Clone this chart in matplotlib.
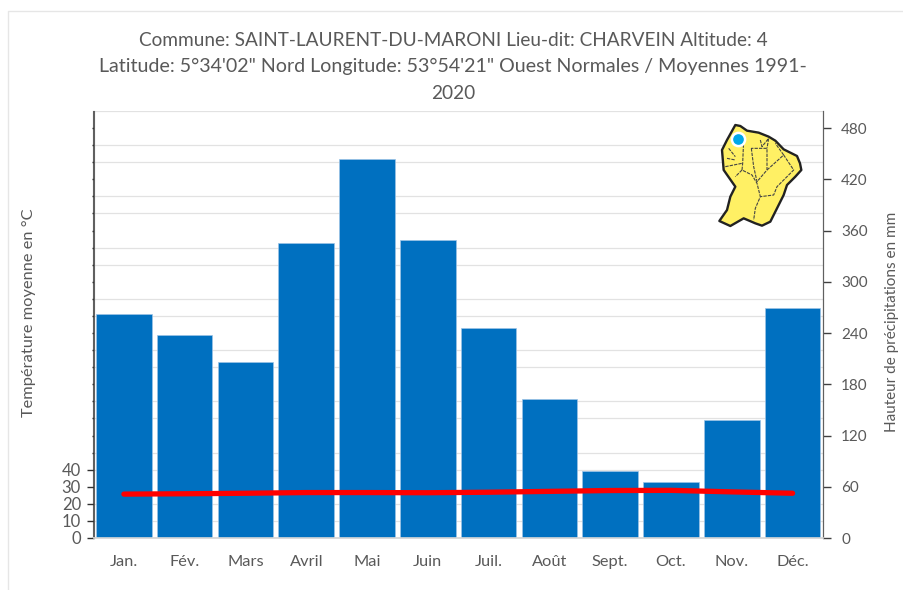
import numpy as np
import matplotlib
matplotlib.use('Agg')
import matplotlib.pyplot as plt

plt.rcParams['font.family'] = ['Lato', 'DejaVu Sans']

mois = ['Jan.', 'Fév.', 'Mars', 'Avril', 'Mai', 'Juin', 'Juil.', 'Août', 'Sept.', 'Oct.', 'Nov.', 'Déc.']
precip = [262, 238, 206, 345, 444, 349, 246, 163, 78, 65, 138, 269]
temp = [25.7, 25.9, 26.2, 26.6, 26.6, 26.5, 26.8, 27.3, 27.8, 27.9, 27.0, 26.2]
titre = ["Commune: SAINT-LAURENT-DU-MARONI Lieu-dit: CHARVEIN Altitude: 4",
         "Latitude: 5°34'02\" Nord Longitude: 53°54'21\" Ouest Normales / Moyennes 1991-",
         "2020"]

# contour de la Guyane, en pixels du petit encart
carte_x = [166, 181, 201, 236, 266, 286, 311, 351, 360, 364, 346, 321, 311, 291, 271, 246, 226, 191, 151, 118, 141, 151, 166, 131, 126, 141]
carte_y = [75, 78, 92, 98, 110, 122, 148, 168, 190, 210, 230, 255, 285, 325, 365, 377, 370, 355, 378, 363, 330, 290, 260, 210, 150, 120]
rivieres = [
    ([191, 188, 186, 216, 231, 241, 226, 221], [120, 190, 210, 225, 250, 290, 325, 360]),
    ([136, 186], [200, 190]),
    ([186, 166], [210, 230]),
    ([214, 221, 231, 261, 261, 214], [145, 200, 245, 210, 145, 145]),
    ([261, 311, 341, 291, 281, 241], [210, 165, 210, 260, 285, 290]),
    ([241, 246, 266, 261], [120, 140, 115, 145]),
    ([141, 166], [175, 180]),
    ([146, 166], [145, 170]),
    ([311, 286], [165, 130]),
]

W, H = 904, 590
fig = plt.figure(figsize=(W / 100, H / 100), dpi=100)
g, d, haut, bas = 93.5, 823, 111, 538
ax2 = fig.add_axes([g / W, 1 - bas / H, (d - g) / W, (bas - haut) / H])
ax = ax2.twinx()
ax.yaxis.tick_left()
ax.yaxis.set_label_position('left')
ax.set_zorder(ax2.get_zorder() + 1)
ax.patch.set_visible(False)

x = np.arange(12)
ax2.bar(x, precip, width=0.915, color='#0070c0', edgecolor='#9dc3e6', linewidth=0.5, zorder=3)
ax.plot(x, temp, color='#ff0000', lw=3.8, solid_capstyle='round', zorder=4)

ax2.set_xlim(-0.5, 11.5)
ax2.set_ylim(0, 500)
ax.set_ylim(0, 250)

ax2.set_yticks(np.arange(0, 481, 60))
ax2.set_yticks(np.arange(0, 501, 20), minor=True)
ax2.yaxis.tick_right()
ax2.yaxis.set_label_position('right')
ax2.grid(True, which='minor', axis='y', color='#e2e2e2', lw=0.9, zorder=0)
ax2.tick_params(axis='y', which='major', length=6, width=1, color='#404040', labelsize=11, labelcolor='#595959', pad=7)
ax2.tick_params(axis='y', which='minor', length=0)
ax2.set_xticks(x, mois)
ax2.tick_params(axis='x', length=0, labelsize=11.8, labelcolor='#595959', pad=12)

ax.set_yticks(np.arange(0, 41, 10))
ax.set_yticks(np.arange(50, 241, 10), minor=True)
ax.tick_params(axis='y', which='major', length=5, width=1, color='#303030', labelsize=12, labelcolor='#595959', pad=4)
ax.tick_params(axis='y', which='minor', length=1.2, width=1, color='#303030')

for a in (ax, ax2):
    a.spines['top'].set_visible(False)
    a.spines['bottom'].set_color('#d9d9d9')
    a.spines['bottom'].set_linewidth(1.2)
    a.spines['left'].set_color('#606060')
    a.spines['right'].set_color('#606060')

fig.text(29 / W, 1 - 313 / H, 'Température moyenne en °C', rotation=90, ha='center', va='center', fontsize=11.8, color='#595959')
fig.text(892 / W, 1 - 322 / H, 'Hauteur de précipitations en mm', rotation=90, ha='center', va='center', fontsize=11, color='#595959')
for ligne, y, taille in zip(titre, [40, 66, 93], [13.7, 14.1, 13.7]):
    fig.text(453 / W, 1 - y / H, ligne, ha='center', va='center', fontsize=taille, color='#595959')

# cadre clair du graphique
fig.add_artist(plt.Line2D([8 / W, 8 / W, 1], [0, 1 - 11 / H, 1 - 11 / H], color='#e6e6e6', lw=1))

# encart carte
enc = fig.add_axes([680 / W, 1 - 260 / H, 224 / W, 160 / H], zorder=5)
enc.set_xlim(0, 672)
enc.set_ylim(480, 0)
enc.axis('off')
enc.fill(carte_x, carte_y, facecolor='#fff064', edgecolor='#222222', lw=1.7, joinstyle='round')
for rx, ry in rivieres:
    enc.plot(rx, ry, color='#444444', lw=0.8, ls=(0, (3, 1)))
enc.plot([173], [116], 'o', ms=9.5, mfc='#00a8e8', mec='white', mew=1.8)

fig.savefig('out.png', dpi=100)
